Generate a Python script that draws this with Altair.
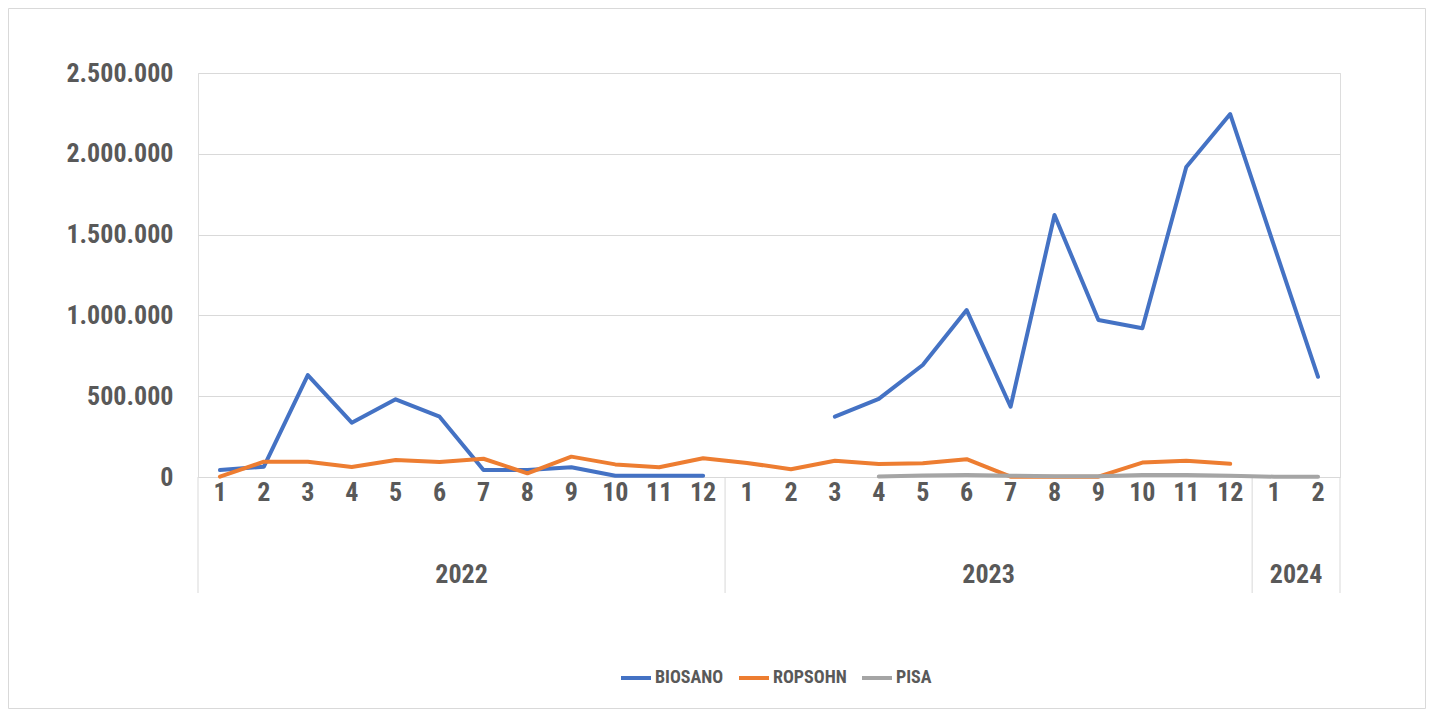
import altair as alt
import pandas as pd

# ---- data ----
months = [1, 2, 3, 4, 5, 6, 7, 8, 9, 10, 11, 12,
          1, 2, 3, 4, 5, 6, 7, 8, 9, 10, 11, 12,
          1, 2]
years = [2022] * 12 + [2023] * 12 + [2024] * 2
series_names = ["BIOSANO", "ROPSOHN", "PISA"]
series_colors = ["#4472C4", "#ED7D31", "#A5A5A5"]

biosano = [43000, 64000, 631000, 336000, 481000, 373000, 43000, 43000, 60000, 8000, 8000, 8000,
           None, None, 373000, 483000, 693000, 1033000, 435000, 1621000, 971000, 920000, 1918000, 2246000,
           1430000, 620000]
ropsohn = [2000, 95000, 95000, 62000, 105000, 93000, 113000, 23000, 126000, 78000, 60000, 116000,
           87000, 48000, 101000, 80000, 85000, 110000, 2000, 2000, 2000, 89000, 101000, 82000,
           None, None]
pisa = [None] * 15 + [3000, 10000, 12000, 8000, 5000, 5000, 12000, 12000, 8000, 2000, 2000]

y_ticks = [0, 500000, 1000000, 1500000, 2000000, 2500000]

# ---- build tables ----
rows = []
for name, vals in zip(series_names, [biosano, ropsohn, pisa]):
    seg = 0
    prev_none = True
    for i, v in enumerate(vals):
        if v is None:
            prev_none = True
            continue
        if prev_none:
            seg += 1
        prev_none = False
        rows.append({"idx": i, "value": v, "series": name, "seg": f"{name}-{seg}"})
df = pd.DataFrame(rows)

df_months = pd.DataFrame({"idx": list(range(len(months))), "month": [str(m) for m in months]})

year_groups = []
for y in sorted(set(years)):
    ids = [i for i, yy in enumerate(years) if yy == y]
    year_groups.append({"year": str(y), "start": ids[0], "end": ids[-1], "mid": (ids[0] + ids[-1]) / 2})
df_years = pd.DataFrame(year_groups)
edges = [-0.5] + [g["end"] + 0.5 for g in year_groups]
df_edges = pd.DataFrame({"edge": edges})

W, H = 1142, 404
TXT = "#595959"
FONT = "Liberation Sans Narrow, Roboto Condensed, DejaVu Sans Condensed, sans-serif"

xscale = alt.Scale(domain=[-0.5, len(months) - 0.5], nice=False, zero=False)
color = alt.Color("series:N",
                  scale=alt.Scale(domain=series_names, range=series_colors),
                  legend=alt.Legend(title=None, orient="none", direction="horizontal",
                                    legendX=421, legendY=588,
                                    symbolType="stroke", symbolStrokeWidth=4, symbolSize=900,
                                    labelFont=FONT, labelFontSize=18, labelFontWeight="bold",
                                    labelColor=TXT, labelOffset=2, columnPadding=7))

base = alt.Chart(df)

lines = []
for name in series_names:
    lines.append(
        base.transform_filter(alt.datum.series == name)
        .mark_line(strokeWidth=4, strokeCap="round", strokeJoin="round")
        .encode(
            x=alt.X("idx:Q", scale=xscale, axis=None),
            y=alt.Y("value:Q", scale=alt.Scale(domain=[0, 2500000], nice=False),
                    axis=alt.Axis(values=y_ticks, title=None, domain=False, ticks=False,
                                  labelPadding=25, labelFont=FONT, labelFontSize=26,
                                  labelFontWeight="bold", labelColor=TXT,
                                  gridColor="#d9d9d9", gridWidth=1,
                                  labelExpr="replace(format(datum.value, ','), regexp(',', 'g'), '.')")),
            color=color,
            detail="seg:N",
        )
    )

month_text = alt.Chart(df_months).mark_text(
    font=FONT, fontSize=26, fontWeight="bold", color=TXT, baseline="middle", align="center"
).encode(x=alt.X("idx:Q", scale=xscale, axis=None), y=alt.value(H + 16), text="month:N")

year_text = alt.Chart(df_years).mark_text(
    font=FONT, fontSize=26, fontWeight="bold", color=TXT, baseline="middle", align="center"
).encode(x=alt.X("mid:Q", scale=xscale, axis=None), y=alt.value(H + 98), text="year:N")

edge_rules = alt.Chart(df_edges).mark_rule(color="#d9d9d9", strokeWidth=1).encode(
    x=alt.X("edge:Q", scale=xscale, axis=None), y=alt.value(H), y2=alt.value(H + 116)
)

frame = alt.Chart(df_edges.head(1)).mark_rect(fill=None, stroke="#d9d9d9", strokeWidth=1).encode(
    x=alt.value(-189.5), x2=alt.value(W + 85.5), y=alt.value(-64.5), y2=alt.value(H + 231.5)
)

chart = alt.layer(frame, edge_rules, *lines, month_text, year_text).properties(
    width=W, height=H,
    autosize=alt.AutoSizeParams(type="none"),
    padding={"left": 190, "top": 65, "right": 86, "bottom": 233},
).configure_view(stroke=None).configure(font=FONT)

chart.save("out.html", embed_options={"renderer": "svg", "actions": False})
